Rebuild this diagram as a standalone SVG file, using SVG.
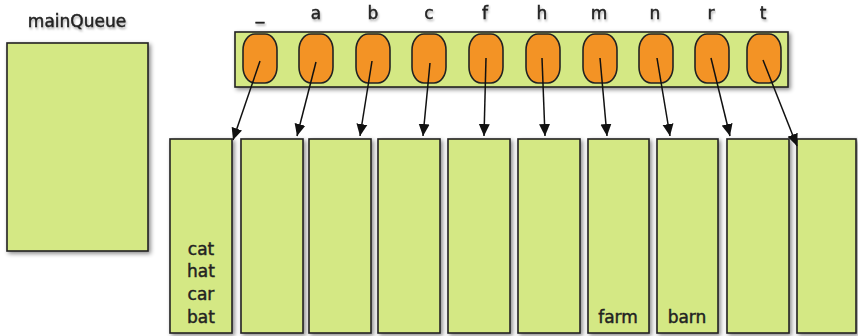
<svg xmlns="http://www.w3.org/2000/svg" width="858" height="336" viewBox="0 0 858 336">
<defs>
<filter id="sh" x="-20%" y="-20%" width="140%" height="140%">
<feDropShadow dx="2" dy="2" stdDeviation="2" flood-color="#000" flood-opacity="0.45"/>
</filter>
<filter id="tsh" x="-20%" y="-40%" width="140%" height="180%">
<feDropShadow dx="1" dy="2" stdDeviation="1.2" flood-color="#000" flood-opacity="0.3"/>
</filter>
<marker id="ah" markerWidth="13" markerHeight="12" refX="12" refY="6" orient="auto" markerUnits="userSpaceOnUse">
<path d="M0,0.5 L12,6 L0,11.5 Z" fill="#111"/>
</marker>
</defs>
<style>
.box{fill:#d4e884;stroke:#222;stroke-width:1.6}
.pill{fill:#f39325;stroke:#222;stroke-width:1.6}
.lbl{font-family:"DejaVu Sans",sans-serif;font-size:17px;fill:#222;stroke:#222;stroke-width:0.45;text-anchor:middle}
.con{stroke:#111;stroke-width:1.5;fill:none;marker-end:url(#ah)}
</style>
<rect width="858" height="336" fill="#fff"/>

<g id="mainQueue">
<text class="lbl" x="77" y="27" filter="url(#tsh)">mainQueue</text>
<rect class="box" x="7" y="43" width="141" height="208" filter="url(#sh)"/>
</g>

<g id="strip">
<rect class="box" x="235" y="32" width="553" height="55" filter="url(#sh)"/>
</g>

<g id="keys">
<g id="k_"><text class="lbl" x="260" y="19" filter="url(#tsh)">_</text><rect class="pill" x="243" y="34" width="34" height="49" rx="12" ry="16"/></g>
<g id="ka"><text class="lbl" x="316" y="19" filter="url(#tsh)">a</text><rect class="pill" x="299" y="34" width="34" height="49" rx="12" ry="16"/></g>
<g id="kb"><text class="lbl" x="373" y="19" filter="url(#tsh)">b</text><rect class="pill" x="356" y="34" width="34" height="49" rx="12" ry="16"/></g>
<g id="kc"><text class="lbl" x="429" y="19" filter="url(#tsh)">c</text><rect class="pill" x="412" y="34" width="34" height="49" rx="12" ry="16"/></g>
<g id="kf"><text class="lbl" x="485" y="19" filter="url(#tsh)">f</text><rect class="pill" x="469" y="34" width="34" height="49" rx="12" ry="16"/></g>
<g id="kh"><text class="lbl" x="542" y="19" filter="url(#tsh)">h</text><rect class="pill" x="526" y="34" width="34" height="49" rx="12" ry="16"/></g>
<g id="km"><text class="lbl" x="599" y="19" filter="url(#tsh)">m</text><rect class="pill" x="583" y="34" width="34" height="49" rx="12" ry="16"/></g>
<g id="kn"><text class="lbl" x="655" y="19" filter="url(#tsh)">n</text><rect class="pill" x="639" y="34" width="34" height="49" rx="12" ry="16"/></g>
<g id="kr"><text class="lbl" x="711" y="19" filter="url(#tsh)">r</text><rect class="pill" x="695" y="34" width="34" height="49" rx="12" ry="16"/></g>
<g id="kt"><text class="lbl" x="763" y="19" filter="url(#tsh)">t</text><rect class="pill" x="747" y="34" width="34" height="49" rx="12" ry="16"/></g>
</g>

<g id="buckets">
<g id="b_"><rect class="box" x="170" y="139" width="62" height="194" filter="url(#sh)"/>
<text class="lbl" x="201" y="255">cat</text><text class="lbl" x="201" y="277">hat</text><text class="lbl" x="201" y="300">car</text><text class="lbl" x="201" y="323">bat</text></g>
<g id="ba"><rect class="box" x="241" y="139" width="62" height="194" filter="url(#sh)"/></g>
<g id="bb"><rect class="box" x="309" y="139" width="62" height="194" filter="url(#sh)"/></g>
<g id="bc"><rect class="box" x="378" y="139" width="62" height="194" filter="url(#sh)"/></g>
<g id="bf"><rect class="box" x="448" y="139" width="62" height="194" filter="url(#sh)"/></g>
<g id="bh"><rect class="box" x="518" y="139" width="62" height="194" filter="url(#sh)"/></g>
<g id="bm"><rect class="box" x="588" y="139" width="61" height="194" filter="url(#sh)"/>
<text class="lbl" x="618" y="323">farm</text></g>
<g id="bn"><rect class="box" x="657" y="139" width="61" height="194" filter="url(#sh)"/>
<text class="lbl" x="687" y="323">barn</text></g>
<g id="br"><rect class="box" x="727" y="139" width="62" height="194" filter="url(#sh)"/></g>
<g id="bt"><rect class="box" x="797" y="139" width="59" height="194" filter="url(#sh)"/></g>
</g>

<g id="connectors">
<line class="con" x1="260" y1="61" x2="233" y2="140"/>
<line class="con" x1="316" y1="62" x2="297" y2="136"/>
<line class="con" x1="372" y1="61" x2="360" y2="136"/>
<line class="con" x1="430" y1="63" x2="423" y2="136"/>
<line class="con" x1="486" y1="58" x2="484" y2="136"/>
<line class="con" x1="542" y1="58" x2="545" y2="136"/>
<line class="con" x1="600" y1="58" x2="607" y2="136"/>
<line class="con" x1="657" y1="58" x2="670" y2="136"/>
<line class="con" x1="711" y1="58" x2="730" y2="136"/>
<line class="con" x1="763" y1="60" x2="797" y2="146"/>
</g>
</svg>
